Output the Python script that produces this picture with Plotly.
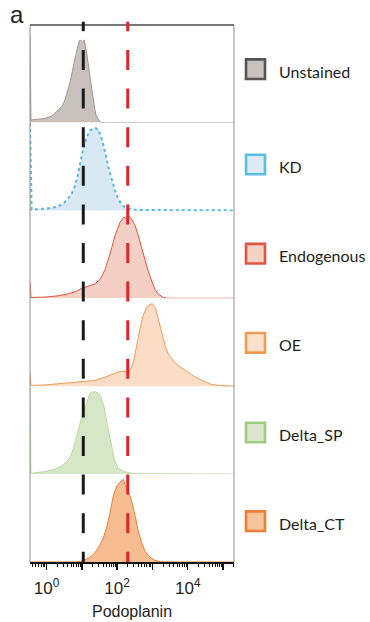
import plotly.graph_objects as go

# ---------------- data (log10 fluorescence, normalized count) ----------------
names = ["Unstained", "KD", "Endogenous", "OE", "Delta_SP", "Delta_CT"]

unstained_log = [-0.467, -0.44, -0.23, -0.04, 0.15, 0.29, 0.43, 0.52, 0.62, 0.67, 0.76, 0.85,
                 0.90, 0.95, 1.02, 1.07, 1.14, 1.23, 1.33, 1.39, 1.49, 1.56, 5.31]
unstained_cnt = [1.05, 0.03, 0.04, 0.05, 0.08, 0.14, 0.19, 0.27, 0.43, 0.49, 0.68, 0.84,
                 0.95, 1.0, 0.98, 1.0, 0.84, 0.56, 0.28, 0.10, 0.02, 0.0, 0.0]

kd_log = [-0.467, -0.42, -0.04, 0.24, 0.43, 0.57, 0.71, 0.81, 0.88, 0.95, 1.04, 1.14, 1.23,
          1.37, 1.47, 1.56, 1.66, 1.75, 1.85, 1.94, 2.03, 2.13, 2.22, 2.41, 2.70, 5.31]
kd_cnt = [1.06, 0.01, 0.02, 0.04, 0.07, 0.12, 0.20, 0.30, 0.42, 0.57, 0.75, 0.89, 0.97,
          1.0, 0.98, 0.87, 0.71, 0.53, 0.38, 0.24, 0.14, 0.07, 0.04, 0.01, 0.005, 0.0]

endo_log = [-0.467, -0.44, -0.04, 0.33, 0.62, 0.81, 1.0, 1.18, 1.37, 1.52, 1.66, 1.80, 1.94,
            2.08, 2.18, 2.27, 2.32, 2.41, 2.51, 2.60, 2.70, 2.79, 2.88, 2.98, 3.07, 3.17,
            3.31, 3.45, 5.31]
endo_cnt = [0.2, 0.01, 0.015, 0.03, 0.055, 0.08, 0.12, 0.15, 0.175, 0.23, 0.35, 0.54, 0.76,
            0.92, 0.98, 0.97, 1.0, 0.96, 0.88, 0.76, 0.60, 0.44, 0.33, 0.21, 0.11, 0.05,
            0.01, 0.0, 0.0]

oe_log = [-0.467, -0.44, -0.04, 0.33, 0.71, 1.09, 1.37, 1.66, 1.85, 1.99, 2.08, 2.22, 2.34,
          2.46, 2.55, 2.65, 2.74, 2.84, 2.93, 3.0, 3.09, 3.17, 3.26, 3.36, 3.45, 3.59, 3.73,
          3.92, 4.11, 4.30, 4.49, 4.68, 4.87, 5.06, 5.31]
oe_cnt = [0.17, 0.01, 0.015, 0.03, 0.04, 0.06, 0.07, 0.11, 0.14, 0.17, 0.18, 0.18, 0.17,
          0.29, 0.49, 0.70, 0.86, 0.96, 0.99, 1.0, 0.94, 0.80, 0.64, 0.49, 0.39, 0.31, 0.25,
          0.19, 0.14, 0.09, 0.05, 0.02, 0.01, 0.005, 0.0]

dsp_log = [-0.467, -0.44, -0.04, 0.24, 0.43, 0.57, 0.67, 0.76, 0.85, 0.95, 1.04, 1.14, 1.23,
           1.33, 1.45, 1.54, 1.64, 1.73, 1.83, 1.92, 2.03, 2.18, 2.41, 2.60, 5.31]
dsp_cnt = [1.06, 0.01, 0.03, 0.06, 0.10, 0.15, 0.20, 0.31, 0.45, 0.63, 0.76, 0.86, 0.98,
           1.0, 0.99, 0.94, 0.80, 0.59, 0.37, 0.18, 0.07, 0.03, 0.01, 0.005, 0.0]

dct_log = [-0.467, 0.81, 1.0, 1.18, 1.33, 1.47, 1.61, 1.70, 1.80, 1.89, 1.99, 2.06, 2.13,
           2.18, 2.22, 2.30, 2.41, 2.51, 2.60, 2.70, 2.79, 2.93, 3.07, 3.22, 3.36, 5.31]
dct_cnt = [0.0, 0.0, 0.01, 0.045, 0.09, 0.17, 0.29, 0.41, 0.60, 0.80, 0.92, 0.96, 0.99,
           1.0, 0.94, 0.88, 0.74, 0.56, 0.37, 0.23, 0.13, 0.06, 0.02, 0.005, 0.0, 0.0]

series_log = [unstained_log, kd_log, endo_log, oe_log, dsp_log, dct_log]
series_cnt = [unstained_cnt, kd_cnt, endo_cnt, oe_cnt, dsp_cnt, dct_cnt]

gate_low = 11      # black dashed gate
gate_high = 200    # red dashed gate

x_range_log = [-0.467, 5.31]
major_vals = [1, 10, 100, 1000, 10000, 100000]
major_text = ["10<sup>0</sup>", "", "10<sup>2</sup>", "", "10<sup>4</sup>", ""]
minor_vals = [m * 10 ** k for k in range(-1, 6) for m in range(2, 10)
              if 10 ** x_range_log[0] <= m * 10 ** k <= 10 ** x_range_log[1]]

# ---------------- styles ----------------
line_colors = ["#9b9693", "#58b9e1", "#e0533f", "#ef9b58", "#b9d9a2", "#ec7f3b"]
fill_colors = ["#c9c1bd", "#d9e9f3", "#f3d0c3", "#fcdcc5", "#d6e7c8", "#f6bd90"]
legend_border = ["#555555", "#5bbfe3", "#e25540", "#f19a52", "#9bcd7e", "#ee7d35"]
legend_fill = ["#c9c1bd", "#dde9f3", "#f5d2c5", "#fde0c9", "#d9e8cd", "#f7c39b"]
legend_center_px = [69.2, 164.5, 253.7, 342.8, 432.5, 521.2]

W, H = 370, 622
PLOT_L, PLOT_R, PLOT_TOP, PLOT_BOT = 30, 234, 25, 562   # pixel coords
ML, MT = PLOT_L, PLOT_TOP
MR, MB = W - PLOT_R, H - PLOT_BOT
PW = PLOT_R - PLOT_L
PH = PLOT_BOT - PLOT_TOP
STEP = 87.9       # px per panel
PEAK = 82.5       # px for normalized count 1.0


def py(px):  # pixel y -> paper y
    return (PLOT_BOT - px) / PH


def px_x(px):  # pixel x -> paper x
    return (px - PLOT_L) / PW


fig = go.Figure()
layout_axes = {}
for i in range(6):
    base = PLOT_BOT - STEP * (5 - i)
    top = PLOT_TOP if i == 0 else base - STEP
    below = 0 if i == 5 else 1
    dom = [max(0.0, py(base + below)), min(1.0, py(top))]
    rng = [-below / PEAK, (base - top) / PEAK]
    name = "yaxis" if i == 0 else f"yaxis{i+1}"
    layout_axes[name] = dict(domain=dom, range=rng, visible=False, fixedrange=True)
    yref = "y" if i == 0 else f"y{i+1}"
    fig.add_trace(go.Scatter(
        x=[10 ** v for v in series_log[i]], y=series_cnt[i], mode="lines",
        fill="tozeroy", fillcolor=fill_colors[i],
        line=dict(color=line_colors[i], width=2 if i == 1 else 1,
                  dash="dot" if i == 1 else "solid"),
        xaxis="x", yaxis=yref, showlegend=False, hoverinfo="skip", name=names[i]))

fig.update_layout(**layout_axes)

shapes = []
# frame
shapes.append(dict(type="line", xref="paper", yref="paper", x0=0, x1=1, y0=1, y1=1,
                   line=dict(color="#4a4a4a", width=1.6)))
for xx in (0, 1):
    shapes.append(dict(type="line", xref="paper", yref="paper", x0=xx, x1=xx, y0=0, y1=1,
                       line=dict(color="#8f8f8f", width=1)))
# gates
for g, c in ((gate_low, "#1b1b1b"), (gate_high, "#e0242c")):
    shapes.append(dict(type="line", xref="x", yref="paper", x0=g, x1=g,
                       y0=py(50), y1=0, line=dict(color=c, width=3, dash="20px,18.6px")))
    shapes.append(dict(type="line", xref="x", yref="paper", x0=g, x1=g,
                       y0=py(21.7), y1=py(31.2), line=dict(color=c, width=3)))
# legend squares
for i in range(6):
    cy = legend_center_px[i]
    shapes.append(dict(type="rect", xref="paper", yref="paper",
                       x0=px_x(246), x1=px_x(265), y0=py(cy + 9.8), y1=py(cy - 9.8),
                       fillcolor=legend_fill[i], line=dict(color=legend_border[i], width=2.6)))

annotations = []
for i in range(6):
    annotations.append(dict(xref="paper", yref="paper", x=px_x(277), y=py(legend_center_px[i] + 2),
                            text=names[i], showarrow=False, xanchor="left", yanchor="middle",
                            font=dict(family="Lato", size=16, color="#231f20")))
annotations.append(dict(xref="paper", yref="paper", x=px_x(17), y=py(15), text="a",
                        showarrow=False, xanchor="center", yanchor="middle",
                        font=dict(family="Liberation Sans", size=24, color="#231f20")))

fig.update_layout(
    width=W, height=H, margin=dict(l=ML, r=MR, t=MT, b=MB, autoexpand=False),
    paper_bgcolor="white", plot_bgcolor="white",
    shapes=shapes, annotations=annotations,
    xaxis=dict(type="log", range=x_range_log, anchor="y6", showgrid=False, zeroline=False,
               showline=True, linecolor="#111111", linewidth=1.5,
               tickmode="array", tickvals=major_vals, ticktext=major_text,
               ticks="outside", ticklen=6, tickwidth=1.5, tickcolor="#111111",
               ticklabelstandoff=4,
               minor=dict(tickmode="array", tickvals=minor_vals, ticks="outside",
                          ticklen=3, tickwidth=1, tickcolor="#111111"),
               tickfont=dict(family="Liberation Sans", size=17, color="#231f20"),
               title=dict(text="Podoplanin", standoff=9,
                          font=dict(family="Liberation Sans", size=16, color="#231f20")),
               automargin=False, fixedrange=True),
)

fig.write_html("out.html",
               config={"displayModeBar": False, "staticPlot": True},
               post_script="document.body.style.margin='0px';"
                           "document.body.style.overflow='hidden';")
